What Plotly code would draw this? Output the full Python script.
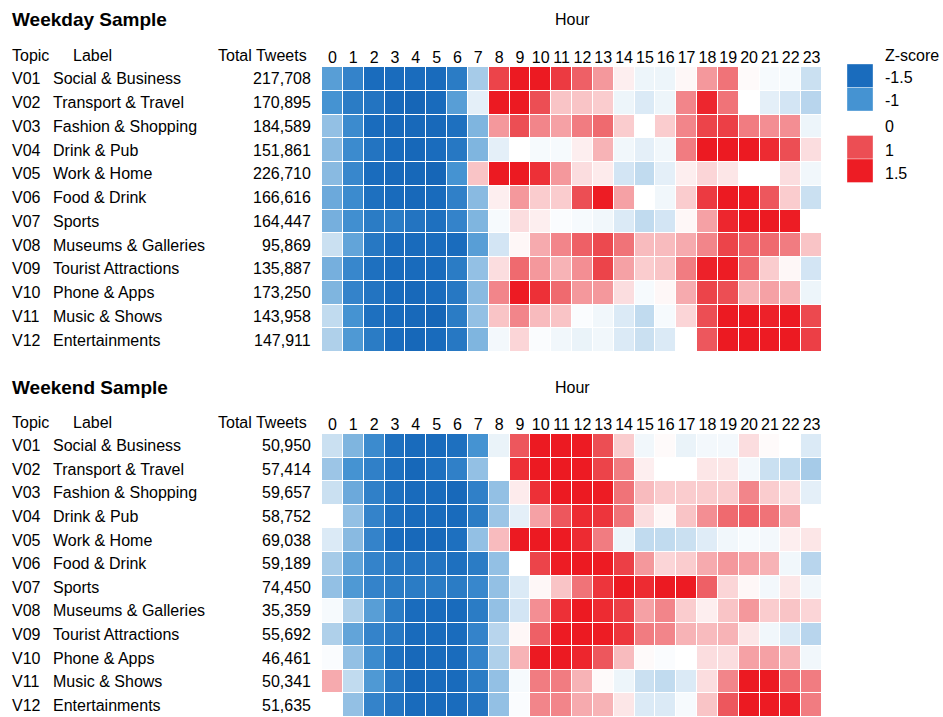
import plotly.graph_objects as go

topics = ["V01", "V02", "V03", "V04", "V05", "V06", "V07", "V08", "V09", "V10", "V11", "V12"]
labels = ["Social & Business", "Transport & Travel", "Fashion & Shopping", "Drink & Pub",
          "Work & Home", "Food & Drink", "Sports", "Museums & Galleries",
          "Tourist Attractions", "Phone & Apps", "Music & Shows", "Entertainments"]
hours = list(range(24))
hour_labels = [str(h) for h in hours]

weekday_totals = ["217,708", "170,895", "184,589", "151,861", "226,710", "166,616",
                  "164,447", "95,869", "135,887", "173,250", "143,958", "147,911"]
weekend_totals = ["50,950", "57,414", "59,657", "58,752", "69,038", "59,189",
                  "74,450", "35,359", "55,692", "46,461", "50,341", "51,635"]

weekday_z = [
    [-0.9, -1.2, -1.5, -1.5, -1.5, -1.55, -1.3, -0.5, 1.1, 1.6, 1.6, 1.2, 0.9, 0.6, 0.1, -0.1, -0.1, 0.05, 0.6, 0.8, 0.03, -0.05, -0.05, -0.3],
    [-1.0, -1.3, -1.4, -1.6, -1.7, -1.55, -0.9, -0.15, 1.6, 1.6, 1.0, 0.35, 0.35, 0.3, -0.1, -0.2, -0.1, 0.7, 1.4, 0.8, 0.0, -0.15, -0.25, -0.4],
    [-0.6, -1.1, -1.5, -1.6, -1.6, -1.6, -1.45, -0.7, 0.6, 1.0, 0.7, 0.55, 0.75, 0.85, 0.3, 0.0, 0.3, 0.7, 1.1, 1.15, 0.75, 0.65, 0.65, -0.1],
    [-0.65, -1.1, -1.4, -1.55, -1.65, -1.5, -1.35, -0.7, -0.15, 0.0, -0.05, -0.05, 0.1, 0.45, -0.08, -0.15, -0.08, 0.75, 1.6, 1.6, 1.6, 1.35, 1.0, 0.2],
    [-0.65, -1.15, -1.5, -1.6, -1.65, -1.7, -1.0, 0.35, 1.65, 1.6, 1.3, 0.6, 0.2, 0.12, -0.25, -0.35, -0.15, 0.1, 0.25, 0.15, None, None, 0.2, -0.08],
    [-0.8, -1.1, -1.45, -1.55, -1.6, -1.55, -1.25, -0.65, 0.1, 0.6, 0.3, 0.3, 1.0, 1.5, 0.55, 0.0, -0.08, 0.3, 1.2, 1.6, 1.5, 0.95, 0.3, -0.3],
    [-0.75, -1.05, -1.3, -1.3, -1.4, -1.45, -1.2, -0.7, -0.05, 0.2, 0.1, -0.03, -0.05, -0.08, -0.2, -0.35, -0.25, 0.05, 0.55, 1.4, 1.6, 1.6, 1.5, None],
    [-0.3, -0.85, -1.35, -1.5, -1.55, -1.5, -1.5, -0.9, -0.25, 0.05, 0.5, 0.7, 0.9, 1.05, 0.8, 0.4, 0.4, 0.5, 0.7, 1.1, 0.9, 0.85, 0.75, 0.35],
    [-0.75, -1.15, -1.45, -1.55, -1.55, -1.55, -1.3, -0.6, 0.2, 0.85, 0.6, 0.45, 0.65, 1.1, 0.55, 0.3, 0.35, 0.75, 1.45, 1.5, 0.85, 0.3, 0.05, -0.25],
    [-0.7, -1.2, -1.4, -1.55, -1.6, -1.5, -1.35, -0.65, 0.7, 1.55, 1.3, 0.85, 0.6, 0.6, 0.2, -0.05, 0.05, 0.5, 1.1, 1.0, 0.45, 0.55, 0.45, -0.1],
    [-0.35, -1.0, -1.45, -1.55, -1.6, -1.7, -1.3, -0.6, 0.35, 0.7, 0.4, 0.35, -0.03, -0.08, -0.2, -0.35, -0.05, 0.25, 1.0, 1.6, 1.6, 1.45, 1.6, 1.05],
    [-0.45, -0.95, -1.3, -1.5, -1.65, -1.55, -1.35, -0.7, -0.07, 0.25, -0.03, -0.08, -0.12, -0.08, -0.2, -0.3, -0.2, None, 0.95, 1.6, 1.6, 1.55, 1.6, 1.15],
]

weekend_z = [
    [-0.3, -0.7, -1.1, -1.45, -1.55, -1.55, -1.45, -1.0, -0.12, 0.95, 1.6, 1.6, 1.55, 1.0, 0.3, -0.08, 0.03, -0.12, -0.07, -0.07, 0.2, 0.03, 0.0, -0.2],
    [-0.55, -1.0, -1.25, -1.45, -1.65, -1.45, -1.25, -0.6, 0.0, 1.3, 1.6, 1.6, 1.55, 1.1, 0.75, 0.1, 0.0, 0.0, 0.15, 0.15, -0.07, -0.3, -0.35, -0.5],
    [-0.3, -0.8, -1.25, -1.45, -1.55, -1.55, -1.6, -1.25, -0.6, 0.12, 1.3, 1.6, 1.6, 1.5, 0.8, 0.4, 0.3, 0.3, 0.3, 0.3, 0.7, 0.3, 0.2, -0.15],
    [None, -0.6, -1.2, -1.45, -1.55, -1.55, -1.55, -1.3, -0.55, -0.15, 0.55, 0.95, 1.35, 1.25, 0.8, 0.2, 0.05, 0.35, 0.65, 0.85, 0.9, 0.8, 0.5, None],
    [-0.2, -0.65, -1.2, -1.5, -1.6, -1.6, -1.45, -0.6, 0.4, 1.6, 1.6, 1.55, 1.35, 0.75, -0.1, -0.35, -0.35, -0.3, -0.18, -0.08, -0.05, -0.07, 0.1, 0.15],
    [-0.5, -0.85, -1.2, -1.35, -1.4, -1.4, -1.45, -1.3, -0.6, 0.0, 1.1, 1.5, 1.6, 1.55, 1.15, 0.6, 0.25, 0.3, 0.5, 0.6, 0.55, 0.45, -0.08, -0.4],
    [-0.6, -0.95, -1.2, -1.3, -1.3, -1.3, -1.3, -1.15, -0.6, -0.2, 0.05, 0.35, 0.8, 1.25, 1.6, 1.35, 1.6, 1.55, 0.9, 0.25, 0.05, -0.07, 0.15, -0.08],
    [-0.05, -0.45, -0.9, -1.3, -1.5, -1.55, -1.55, -1.3, -0.6, -0.25, 0.65, 1.3, 1.6, 1.35, 1.15, 0.55, 0.7, 0.3, 0.1, 0.35, 0.6, 0.3, 0.35, 0.25],
    [-0.45, -0.85, -1.2, -1.35, -1.55, -1.55, -1.5, -1.2, -0.4, 0.05, 0.9, 1.55, 1.6, 1.5, 1.25, 0.75, 0.7, 0.45, 0.4, 0.45, 0.15, -0.08, -0.2, -0.4],
    [-0.03, -0.6, -1.1, -1.45, -1.6, -1.55, -1.5, -1.2, -0.45, 0.45, 1.6, 1.6, 1.4, 0.95, 0.4, 0.03, -0.03, 0.0, 0.2, 0.2, 0.55, 0.55, 0.45, -0.08],
    [0.5, -0.35, -0.95, -1.35, -1.65, -1.55, -1.55, -1.3, -0.6, -0.05, 0.75, 0.75, 0.45, 0.03, -0.1, -0.3, -0.35, -0.2, 0.2, 0.7, 1.6, 1.6, 0.85, 0.75],
    [None, -0.6, -1.2, -1.4, -1.55, -1.55, -1.5, -1.4, -0.6, -0.03, 0.7, 0.7, 0.5, 0.45, 0.15, -0.2, -0.2, -0.05, 0.35, 0.95, 1.6, 1.55, 1.45, 0.75],
]

legend_values = [-1.5, -1, 0, 1, 1.5]
legend_labels = ["-1.5", "-1", "0", "1", "1.5"]

W, H = 943, 717
FONT = "Liberation Sans, Arial, Helvetica, sans-serif"

colorscale = [
    [0.0, "#0f5eae"],
    [0.125, "#1a6cbd"],
    [0.25, "#4593d2"],
    [0.375, "#a6cbe8"],
    [0.5, "#ffffff"],
    [0.625, "#f6aaae"],
    [0.75, "#ec4e54"],
    [0.875, "#ed1c24"],
    [1.0, "#e8141c"],
]
ZMIN, ZMAX = -2.0, 2.0


def px_x(x):
    return x / W


def px_y(y):
    return 1 - y / H


fig = go.Figure()
for i, z in enumerate([weekday_z, weekend_z]):
    fig.add_trace(go.Heatmap(
        z=z, x=hours, y=topics,
        xaxis="x" if i == 0 else "x2", yaxis="y" if i == 0 else "y2",
        colorscale=colorscale, zmin=ZMIN, zmax=ZMAX, showscale=False,
        xgap=1, ygap=1, hoverongaps=False,
    ))

x_dom = [px_x(322), px_x(822)]
axis_common = dict(showgrid=False, zeroline=False, showline=False)
fig.update_layout(
    width=W, height=H,
    margin=dict(l=0, r=0, t=0, b=0),
    paper_bgcolor="white", plot_bgcolor="white",
    font=dict(family=FONT, size=16, color="black"),
    xaxis=dict(domain=x_dom, anchor="y", side="top", tickvals=hours, ticktext=hour_labels,
               ticks="", range=[-0.5, 23.5], **axis_common),
    yaxis=dict(domain=[px_y(352), px_y(67)], anchor="x", autorange="reversed",
               showticklabels=False, ticks="", **axis_common),
    xaxis2=dict(domain=x_dom, anchor="y2", side="top", tickvals=hours, ticktext=hour_labels,
                ticks="", range=[-0.5, 23.5], **axis_common),
    yaxis2=dict(domain=[0, px_y(434)], anchor="x2", autorange="reversed",
                showticklabels=False, ticks="", **axis_common),
)

annotations = []


def txt(text, x, y, xref="paper", yref="paper", xanchor="left", size=16, bold=False):
    annotations.append(dict(
        text=f"<b>{text}</b>" if bold else text, x=x, y=y, xref=xref, yref=yref,
        xanchor=xanchor, yanchor="middle", showarrow=False,
        font=dict(family=FONT, size=size, color="black"),
    ))


for title, top_y, yref, totals in [("Weekday Sample", 20, "y", weekday_totals),
                                    ("Weekend Sample", 387, "y2", weekend_totals)]:
    txt(title, px_x(10), px_y(top_y), size=19, bold=True)
    txt("Hour", (x_dom[0] + x_dom[1]) / 2, px_y(top_y), xanchor="center")
    txt("Topic", px_x(10), px_y(top_y + 35))
    txt("Label", px_x(71), px_y(top_y + 35))
    txt("Total Tweets", px_x(216), px_y(top_y + 35))
    for t, lab, tot in zip(topics, labels, totals):
        txt(t, px_x(10), t, yref=yref)
        txt(lab, px_x(51), t, yref=yref)
        txt(tot, px_x(313), t, yref=yref, xanchor="right")

# Z-score legend
txt("Z-score", px_x(883), px_y(55))
swatch_colors = ["#1a6cbd", "#4593d2", None, "#ec4e54", "#ed1c24"]
label_y = [77, 101, 126, 150, 173]
swatch_tops = [64, 87.5, None, 135.5, 159]
shapes = []
for val, lab, col, ly, st in zip(legend_values, legend_labels, swatch_colors, label_y, swatch_tops):
    txt(lab, px_x(883), px_y(ly))
    if col is not None:
        shapes.append(dict(type="rect", xref="paper", yref="paper",
                           x0=px_x(847), x1=px_x(873), y0=px_y(st + 23.5), y1=px_y(st),
                           fillcolor=col, line=dict(width=0.6, color="rgba(255,255,255,0.6)")))

fig.update_layout(annotations=annotations, shapes=shapes)
fig.write_html(
    "out.html",
    config={"displayModeBar": False},
    post_script="document.body.style.margin='0px';document.body.style.overflow='hidden';",
)
